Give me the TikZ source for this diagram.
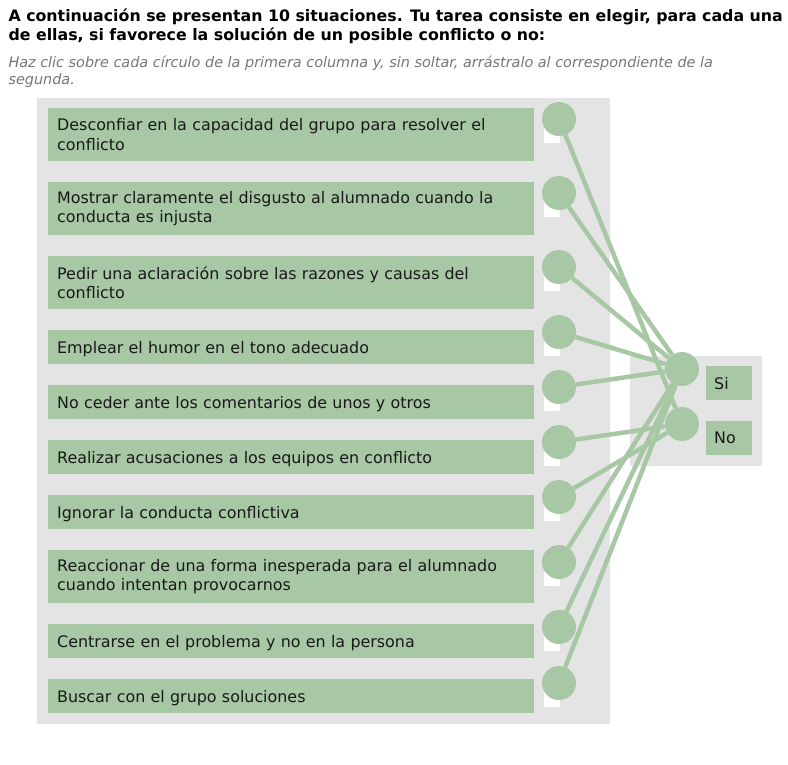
\documentclass[tikz,border=0pt]{standalone}
\usepackage{fontspec}
\setmainfont{DejaVu Sans}
\definecolor{matchgreen}{RGB}{168, 199, 164}
\definecolor{panelgray}{RGB}{228, 228, 228}
\definecolor{hintgray}{RGB}{118, 118, 118}

\begin{document}
\begin{tikzpicture}[x=1pt, y=-1pt,
    item/.style={fill=matchgreen, anchor=north west, minimum width=486pt, text width=468pt,
                 inner xsep=9pt, inner ysep=0pt, align=left, text=black!90,
                 font=\fontsize{15.9}{19.5}\selectfont},
    tall/.style={minimum height=53pt},
    short/.style={minimum height=34pt, text depth=0pt},
    dot/.style={circle, fill=matchgreen, minimum size=34pt, inner sep=0pt},
    link/.style={matchgreen, line width=4.5pt}]
    \useasboundingbox (0,0) rectangle (788,765);

    % heading
    \node[anchor=base west, font=\fontsize{15.8}{18}\selectfont\bfseries] (t1) at (5,22)
        {A continuación se presentan 10 situaciones. Tu tarea consiste en elegir, para cada una};
    \node[anchor=base west, font=\fontsize{15.8}{18}\selectfont\bfseries] (t2) at (5,41)
        {de ellas, si favorece la solución de un posible conflicto o no:};
    \node[anchor=base west, text=hintgray, font=\fontsize{14.4}{16}\selectfont\itshape] (h1) at (5,68)
        {Haz clic sobre cada círculo de la primera columna y, sin soltar, arrástralo al correspondiente de la};
    \node[anchor=base west, text=hintgray, font=\fontsize{14.4}{16}\selectfont\itshape] (h2) at (5,85)
        {segunda.};

    % panels
    \fill[panelgray] (37,98) rectangle (610,724);
    \fill[panelgray] (630,356) rectangle (762,466);

    % first column
    \node[item, tall] (q1) at (48,108) {Desconfiar en la capacidad del grupo para resolver el\\conflicto};
    \node[item, tall] (q2) at (48,182) {Mostrar claramente el disgusto al alumnado cuando la\\conducta es injusta};
    \node[item, tall] (q3) at (48,256) {Pedir una aclaración sobre las razones y causas del\\conflicto};
    \node[item, short] (q4) at (48,330) {Emplear el humor en el tono adecuado};
    \node[item, short] (q5) at (48,385) {No ceder ante los comentarios de unos y otros};
    \node[item, short] (q6) at (48,440) {Realizar acusaciones a los equipos en conflicto};
    \node[item, short] (q7) at (48,495) {Ignorar la conducta conflictiva};
    \node[item, tall] (q8) at (48,550) {Reaccionar de una forma inesperada para el alumnado\\cuando intentan provocarnos};
    \node[item, short] (q9) at (48,624) {Centrarse en el problema y no en la persona};
    \node[item, short] (q10) at (48,679) {Buscar con el grupo soluciones};

    % white tabs under the dots
    \foreach \y in {119,193,267,332,387,442,497,562,627,683}
        \fill[white] (544,\y) rectangle (560,\y+24);

    \node[dot] (c1) at (559,119) {};
    \node[dot] (c2) at (559,193) {};
    \node[dot] (c3) at (559,267) {};
    \node[dot] (c4) at (559,332) {};
    \node[dot] (c5) at (559,387) {};
    \node[dot] (c6) at (559,442) {};
    \node[dot] (c7) at (559,497) {};
    \node[dot] (c8) at (559,562) {};
    \node[dot] (c9) at (559,627) {};
    \node[dot] (c10) at (559,683) {};

    % second column
    \node[dot] (si) at (682,369) {};
    \node[dot] (no) at (682,424) {};
    \node[item, short, minimum width=46pt, text width=30pt, inner xsep=8pt] (siLab) at (706,366) {Si};
    \node[item, short, minimum width=46pt, text width=30pt, inner xsep=8pt] (noLab) at (706,421) {No};

    % answers
    \draw[link] (c1) -- (no);
    \draw[link] (c2) -- (si);
    \draw[link] (c3) -- (si);
    \draw[link] (c4) -- (si);
    \draw[link] (c5) -- (si);
    \draw[link] (c6) -- (no);
    \draw[link] (c7) -- (no);
    \draw[link] (c8) -- (si);
    \draw[link] (c9) -- (si);
    \draw[link] (c10) -- (si);
\end{tikzpicture}
\end{document}
